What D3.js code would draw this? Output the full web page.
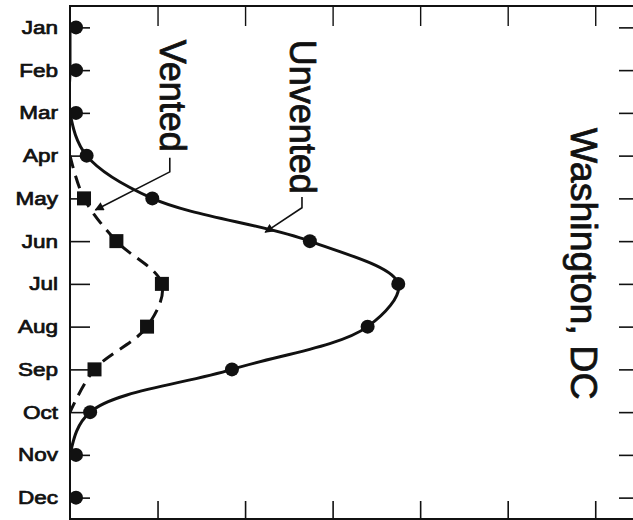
<!DOCTYPE html>
<html>
<head>
<meta charset="utf-8">
<script src="https://cdn.jsdelivr.net/npm/d3@7"></script>
<style>
  body { margin: 0; background: #fff; }
  svg { display: block; }
  .label { font-family: "Liberation Sans", Arial, Helvetica, sans-serif; fill: #111; }
</style>
</head>
<body>
<div id="chart"></div>
<script>
// months down the side
const months = ["Jan", "Feb", "Mar", "Apr", "May", "Jun", "Jul", "Aug", "Sep", "Oct", "Nov", "Dec"];
// unvented attic, one value per month (scale units, ticks every 10)
const unvented = [0, 0, 0, 1.9, 9.4, 27.4, 37.5, 34.0, 18.5, 2.3, 0, 0];
// vented attic, Apr..Oct only
const ventedMonths = ["Apr", "May", "Jun", "Jul", "Aug", "Sep", "Oct"];
const vented = [0, 1.6, 5.3, 10.5, 8.8, 2.8, 0];
const xTicks = [10, 20, 30, 40, 50, 60];

// labels + leaders, positions in data units (x value, month index)
const annotations = [
    { text: "Vented", x: 10.3, y: 0.29, leader: [[11.4, 3.05], [11.4, 3.38], [2.9, 4.27]] },
    { text: "Unvented", x: 25.1, y: 0.29, leader: [[26.5, 3.97], [26.5, 4.22], [22.3, 4.79]] },
    { text: "Washington, DC", x: 57.2, y: 2.35, leader: null }
];

const w = 633, h = 520;
const margin = { top: 6, right: -6, bottom: 1, left: 70 };

const svg = d3.select("#chart")
    .append("svg")
    .attr("width", w)
    .attr("height", h);

const xScale = d3.scaleLinear()
    .domain([0, 65])
    .range([margin.left, w - margin.right]);

const yScale = d3.scalePoint()
    .domain(months)
    .range([margin.top, h - margin.bottom])
    .padding(0.5);

// linear version of the month axis for the annotations
const yIdx = d3.scaleLinear()
    .domain([0, months.length - 1])
    .range([yScale(months[0]), yScale(months[months.length - 1])]);

const x0 = xScale.range()[0], x1 = xScale.range()[1];
const y0 = margin.top, y1 = h - margin.bottom;

svg.append("defs").append("clipPath")
    .attr("id", "plot")
    .append("rect")
    .attr("x", x0).attr("y", y0)
    .attr("width", x1 - x0).attr("height", y1 - y0);

svg.select("defs").append("marker")
    .attr("id", "arrow")
    .attr("viewBox", "0 0 10 10")
    .attr("refX", 9).attr("refY", 5)
    .attr("markerWidth", 10).attr("markerHeight", 9)
    .attr("markerUnits", "userSpaceOnUse")
    .attr("orient", "auto")
    .append("path")
    .attr("d", "M0,0L10,5L0,10z")
    .attr("fill", "#111");

// left axis ticks, pointing inward
const gy = svg.append("g")
    .attr("transform", "translate(" + x0 + ",0)")
    .call(d3.axisRight(yScale).tickSize(20).tickFormat(""));
gy.select(".domain").remove();
gy.selectAll(".tick line").attr("stroke", "#111").attr("stroke-width", 1.6);

// month labels, the original type is wide so stretch it a bit
svg.append("g")
    .selectAll("text")
    .data(months)
    .join("text")
    .attr("class", "label")
    .attr("transform", d => "translate(" + (x0 - 12) + "," + yScale(d) + ") scale(1.25,1)")
    .attr("dy", "0.36em")
    .attr("text-anchor", "end")
    .style("font-size", "18px")
    .style("stroke", "#111")
    .style("stroke-width", 0.7)
    .text(d => d);

// right side ticks
const gr = svg.append("g")
    .attr("transform", "translate(" + x1 + ",0)")
    .call(d3.axisLeft(yScale).tickSize(20).tickFormat(""));
gr.select(".domain").remove();
gr.selectAll(".tick line").attr("stroke", "#111").attr("stroke-width", 1.6);

// top / bottom ticks
const gt = svg.append("g")
    .attr("transform", "translate(0," + y0 + ")")
    .call(d3.axisBottom(xScale).tickValues(xTicks).tickSize(20).tickFormat(""));
gt.select(".domain").remove();
gt.selectAll(".tick line").attr("stroke", "#111").attr("stroke-width", 1.4);

const gb = svg.append("g")
    .attr("transform", "translate(0," + y1 + ")")
    .call(d3.axisTop(xScale).tickValues(xTicks).tickSize(18).tickFormat(""));
gb.select(".domain").remove();
gb.selectAll(".tick line").attr("stroke", "#111").attr("stroke-width", 1.6);

// frame
svg.append("rect")
    .attr("x", x0).attr("y", y0)
    .attr("width", x1 - x0).attr("height", y1 - y0)
    .attr("fill", "none")
    .attr("stroke", "#111")
    .attr("stroke-width", 2);

const plot = svg.append("g").attr("clip-path", "url(#plot)");

const line = d3.line()
    .x(d => xScale(d[1]))
    .y(d => yScale(d[0]))
    .curve(d3.curveCatmullRom.alpha(0.5));

const unventedData = months.map((m, i) => [m, unvented[i]]);
const ventedData = ventedMonths.map((m, i) => [m, vented[i]]);

plot.append("path")
    .datum(unventedData)
    .attr("d", line)
    .attr("fill", "none")
    .attr("stroke", "#111")
    .attr("stroke-width", 3);

plot.append("path")
    .datum(ventedData)
    .attr("d", line)
    .attr("fill", "none")
    .attr("stroke", "#111")
    .attr("stroke-width", 3)
    .attr("stroke-dasharray", "13,8");

// markers sit just inside the frame when the value is zero
const r = 7;
const mx = v => Math.max(xScale(v), x0 + 6);

plot.selectAll("circle")
    .data(unventedData)
    .join("circle")
    .attr("cx", d => mx(d[1]))
    .attr("cy", d => yScale(d[0]))
    .attr("r", r)
    .attr("fill", "#111");

plot.selectAll("rect.sq")
    .data(ventedData.filter(d => d[1] > 0))
    .join("rect")
    .attr("class", "sq")
    .attr("x", d => xScale(d[1]) - 7)
    .attr("y", d => yScale(d[0]) - 7)
    .attr("width", 14)
    .attr("height", 14)
    .attr("fill", "#111");

// rotated labels
svg.append("g")
    .selectAll("text")
    .data(annotations)
    .join("text")
    .attr("class", "label")
    .attr("transform", d => "translate(" + xScale(d.x) + "," + yIdx(d.y) + ") rotate(90)")
    .attr("text-anchor", "start")
    .style("font-size", d => d.leader ? "36px" : "37.5px")
    .style("stroke", "#111")
    .style("stroke-width", 0.8)
    .text(d => d.text);

const leader = d3.line()
    .x(d => xScale(d[0]))
    .y(d => yIdx(d[1]));

svg.append("g")
    .selectAll("path")
    .data(annotations.filter(d => d.leader))
    .join("path")
    .attr("d", d => leader(d.leader))
    .attr("fill", "none")
    .attr("stroke", "#111")
    .attr("stroke-width", 1.6)
    .attr("marker-end", "url(#arrow)");
</script>
</body>
</html>
